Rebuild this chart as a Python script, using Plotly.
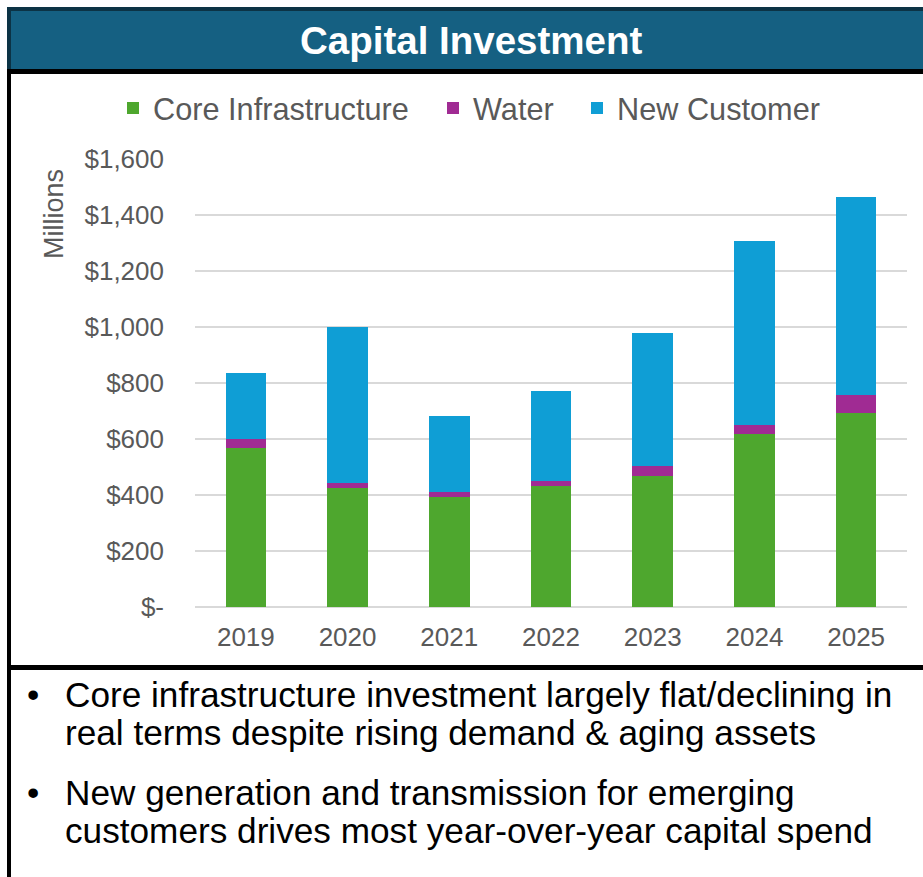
import plotly.graph_objects as go

# ---- data (millions of dollars) ----
years = ["2019", "2020", "2021", "2022", "2023", "2024", "2025"]
core_infrastructure = [570, 424, 392, 431, 468, 619, 692]
water = [32, 20, 20, 19, 37, 33, 64]
new_customer = [234, 557, 272, 322, 475, 655, 708]

series_names = ["Core Infrastructure", "Water", "New Customer"]
series_colors = ["#4EA72E", "#A02B93", "#0F9ED5"]

y_tick_values = [0, 200, 400, 600, 800, 1000, 1200, 1400, 1600]
y_tick_labels = ["$-", "$200", "$400", "$600", "$800", "$1,000", "$1,200", "$1,400", "$1,600"]

title_text = "Capital Investment"
y_title = "Millions"
bullet_lines = [
    ["Core infrastructure investment largely flat/declining in",
     "real terms despite rising demand & aging assets"],
    ["New generation and transmission for emerging",
     "customers drives most year-over-year capital spend"],
]

# ---- page geometry (pixels) ----
W, H = 923, 877
PL, PR, PT, PB = 195, 907, 159, 607  # plot area edges
Y_MAX = 1601  # a hair above the top tick so its gridline is kept


def px(x):
    return (x - PL) / (PR - PL)


def py(y):
    return (PB - y) / (PB - PT)


FONT = "Liberation Sans, Arial, Helvetica, sans-serif"
GRAY = "#595959"

fig = go.Figure()
legend_ids = ["legend", "legend2", "legend3"]
for name, vals, color, lg in zip(series_names,
                                 [core_infrastructure, water, new_customer],
                                 series_colors, legend_ids):
    fig.add_trace(go.Bar(
        x=years, y=vals, name=name,
        marker=dict(color=color, line=dict(width=0)),
        legend=lg,
    ))

# one legend box per entry so each key sits where it belongs
legend_text_left = [153, 473, 617]
legend_common = dict(
    orientation="h", yanchor="middle", y=py(108), xanchor="left",
    bgcolor="rgba(0,0,0,0)", borderwidth=0,
    font=dict(family=FONT, size=30.7, color=GRAY),
)
legend_layout = {}
for lg, tx in zip(legend_ids, legend_text_left):
    legend_layout[lg] = dict(x=px(tx - 40), **legend_common)

shapes = []


def rect(x0, y0, x1, y1, color):
    shapes.append(dict(type="rect", xref="paper", yref="paper",
                       x0=px(x0), x1=px(x1), y0=py(y1), y1=py(y0),
                       fillcolor=color, line=dict(width=0), layer="below"))


# title banner with dark rim
rect(7, 7, W + 5, 70, "#156082")
rect(7, 7, W + 5, 11, "#0C3345")
rect(7, 7, 11, 70, "#0C3345")
# black rules framing the chart panel
rect(7, 69, W + 5, 74, "#000000")
rect(7, 69, 11, H + 5, "#000000")
rect(7, 665, W + 5, 670, "#000000")

annotations = [
    dict(text="<b>%s</b>" % title_text, xref="paper", yref="paper",
         x=px(471), y=py(41), xanchor="center", yanchor="middle",
         showarrow=False, font=dict(family=FONT, size=38.5, color="white")),
    # value-axis caption, sitting beside the upper part of the scale
    dict(text=y_title, xref="paper", yref="paper", textangle=-90,
         x=px(54), y=py(214), xanchor="center", yanchor="middle",
         showarrow=False, font=dict(family=FONT, size=27, color=GRAY)),
]

line_centers = [[694, 732], [792, 830]]
for lines, centers in zip(bullet_lines, line_centers):
    annotations.append(dict(
        text="•", xref="paper", yref="paper", x=px(25), y=py(centers[0]),
        xanchor="left", yanchor="middle", showarrow=False,
        font=dict(family=FONT, size=35, color="black")))
    for line, cy in zip(lines, centers):
        annotations.append(dict(
            text=line, xref="paper", yref="paper", x=px(63), y=py(cy),
            xanchor="left", yanchor="middle", showarrow=False,
            font=dict(family=FONT, size=35.2, color="black")))

fig.update_layout(
    width=W, height=H,
    margin=dict(l=PL, r=W - PR, t=PT, b=H - PB, pad=0),
    paper_bgcolor="white", plot_bgcolor="white",
    barmode="stack", bargap=0.6,
    showlegend=True,
    **legend_layout,
    xaxis=dict(
        type="category", showgrid=False, zeroline=False, showline=False,
        ticks="", ticklabelstandoff=12,
        tickfont=dict(family=FONT, size=26, color=GRAY),
    ),
    yaxis=dict(
        range=[0, Y_MAX], tickvals=y_tick_values, ticktext=y_tick_labels,
        showgrid=True, gridcolor="#D9D9D9", gridwidth=1.5,
        zeroline=True, zerolinecolor="#D9D9D9", zerolinewidth=1.5,
        showline=False, ticks="", ticklabelstandoff=30,
        tickfont=dict(family=FONT, size=26, color=GRAY),
    ),
    shapes=shapes,
    annotations=annotations,
)

fig.write_html("out.html")
